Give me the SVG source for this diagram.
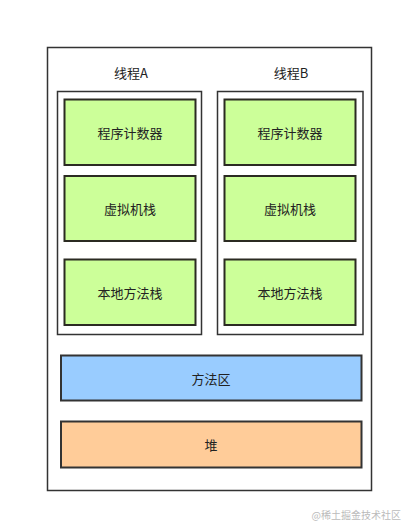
<svg xmlns="http://www.w3.org/2000/svg" width="404" height="523" viewBox="0 0 404 523">
<style>
text{font-family:"Noto Sans CJK SC","Liberation Sans",sans-serif;font-size:13px;fill:#222;text-anchor:middle;dominant-baseline:central}
.outer{fill:#fff;stroke:#333;stroke-width:1.5}
.thread{fill:#fff;stroke:#333;stroke-width:1.5}
.g{fill:#ccff99;stroke:#2b2b22;stroke-width:2}
.m{fill:#99ccff;stroke:#333;stroke-width:2}
.h{fill:#ffcc99;stroke:#333;stroke-width:2}
.wm{font-size:10px;fill:#bbb;text-anchor:end}
</style>
<rect width="404" height="523" fill="#fff"/>
<g id="jvm"><rect class="outer" x="47.5" y="47.5" width="324" height="443"/></g>
<g id="threadA">
<rect class="thread" x="57.5" y="91.5" width="144" height="243"/>
<text x="131" y="72">线程A</text>
</g>
<g id="threadB">
<rect class="thread" x="217.5" y="91.5" width="145.5" height="243"/>
<text x="291" y="72">线程B</text>
</g>
<g id="pcA"><rect class="g" x="64.5" y="99.5" width="131" height="65.5"/><text x="130" y="132.5">程序计数器</text></g>
<g id="vmA"><rect class="g" x="64.5" y="176" width="131" height="65"/><text x="130" y="208.5">虚拟机栈</text></g>
<g id="nativeA"><rect class="g" x="64.5" y="259.5" width="131" height="65.5"/><text x="130" y="292.5">本地方法栈</text></g>
<g id="pcB"><rect class="g" x="224.5" y="99.5" width="131" height="65.5"/><text x="290" y="132.5">程序计数器</text></g>
<g id="vmB"><rect class="g" x="224.5" y="176" width="131" height="65"/><text x="290" y="208.5">虚拟机栈</text></g>
<g id="nativeB"><rect class="g" x="224.5" y="259.5" width="131" height="65.5"/><text x="290" y="292.5">本地方法栈</text></g>
<g id="method"><rect class="m" x="61" y="355.5" width="300.5" height="45"/><text x="211" y="378">方法区</text></g>
<g id="heap"><rect class="h" x="61" y="421.5" width="300.5" height="46"/><text x="211" y="444.5">堆</text></g>
<g id="connectors"></g>
<text class="wm" x="401" y="514">@稀土掘金技术社区</text>
</svg>
